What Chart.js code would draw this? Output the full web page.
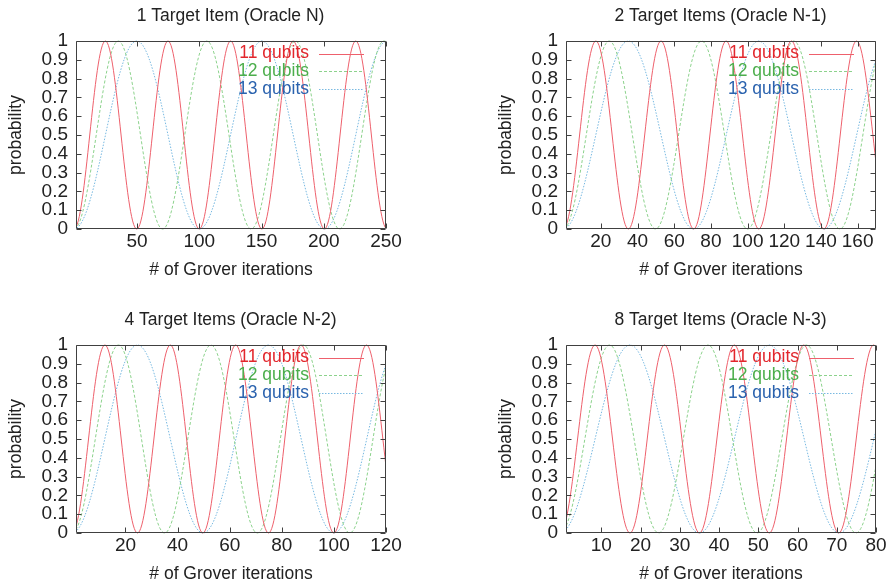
<!DOCTYPE html>
<html><head><meta charset="utf-8">
<script src="https://cdn.jsdelivr.net/npm/chart.js@4.4.0/dist/chart.umd.min.js"></script>
<style>
html,body{margin:0;padding:0;background:#fff;width:890px;height:587px;overflow:hidden;position:relative}
canvas{position:absolute}
</style></head><body>
<canvas id="c1" width="461" height="293" style="left:0px;top:0px"></canvas>
<canvas id="c2" width="461" height="293" style="left:490px;top:0px"></canvas>
<canvas id="c3" width="461" height="293" style="left:0px;top:304px"></canvas>
<canvas id="c4" width="461" height="293" style="left:490px;top:304px"></canvas>
<script>
// ---- text / categories ----
const titles = ['1 Target Item (Oracle N)', '2 Target Items (Oracle N-1)', '4 Target Items (Oracle N-2)', '8 Target Items (Oracle N-3)'];
const seriesLabels = ['11 qubits', '12 qubits', '13 qubits'];
const xTitle = '# of Grover iterations';
const yTitle = 'probability';
const xMin = 1;
const xMax = [250, 170, 120, 80];

// ---- tick labels ----
const xTicks1 = [50, 100, 150, 200, 250];
const xTicks2 = [20, 40, 60, 80, 100, 120, 140, 160];
const xTicks3 = [20, 40, 60, 80, 100, 120];
const xTicks4 = [10, 20, 30, 40, 50, 60, 70, 80];
const xTicks = [xTicks1, xTicks2, xTicks3, xTicks4];
const yTicks = [0, 0.1, 0.2, 0.3, 0.4, 0.5, 0.6, 0.7, 0.8, 0.9, 1];

// ---- data: positions of zeros / maxima of the probability curves ----
const p1_x11 = [-25.6, -0.5, 24.6, 49.8, 74.9, 100.0, 125.2, 150.3, 175.4, 200.5, 225.7, 250.8, 275.9];
const p1_y11 = [1, 0, 1, 0, 1, 0, 1, 0, 1, 0, 1, 0, 1];
const p1_x12 = [-36.0, -0.5, 35.0, 70.6, 106.1, 141.7, 177.2, 212.7, 248.3, 283.8];
const p1_y12 = [1, 0, 1, 0, 1, 0, 1, 0, 1, 0];
const p1_x13 = [-50.8, -0.5, 49.8, 100.0, 150.3, 200.6, 250.8, 301.1];
const p1_y13 = [1, 0, 1, 0, 1, 0, 1, 0];

const p2_x11 = [-18.3, -0.5, 17.3, 35.0, 52.8, 70.6, 88.3, 106.1, 123.9, 141.6, 159.4, 177.2, 194.9];
const p2_y11 = [1, 0, 1, 0, 1, 0, 1, 0, 1, 0, 1, 0, 1];
const p2_x12 = [-25.6, -0.5, 24.6, 49.8, 74.9, 100.0, 125.2, 150.3, 175.4, 200.5];
const p2_y12 = [1, 0, 1, 0, 1, 0, 1, 0, 1, 0];
const p2_x13 = [-36.0, -0.5, 35.0, 70.6, 106.1, 141.7, 177.2, 212.7];
const p2_y13 = [1, 0, 1, 0, 1, 0, 1, 0];

const p3_x11 = [-13.1, -0.5, 12.1, 24.6, 37.2, 49.7, 62.3, 74.9, 87.4, 100.0, 112.5, 125.1, 137.6];
const p3_y11 = [1, 0, 1, 0, 1, 0, 1, 0, 1, 0, 1, 0, 1];
const p3_x12 = [-18.3, -0.5, 17.3, 35.0, 52.8, 70.6, 88.3, 106.1, 123.9, 141.6];
const p3_y12 = [1, 0, 1, 0, 1, 0, 1, 0, 1, 0];
const p3_x13 = [-25.6, -0.5, 24.6, 49.8, 74.9, 100.0, 125.2, 150.3];
const p3_y13 = [1, 0, 1, 0, 1, 0, 1, 0];

const p4_x11 = [-9.4, -0.5, 8.4, 17.3, 26.1, 35.0, 43.9, 52.8, 61.6, 70.5, 79.4, 88.2, 97.1];
const p4_y11 = [1, 0, 1, 0, 1, 0, 1, 0, 1, 0, 1, 0, 1];
const p4_x12 = [-13.1, -0.5, 12.1, 24.6, 37.2, 49.7, 62.3, 74.9, 87.4, 100.0];
const p4_y12 = [1, 0, 1, 0, 1, 0, 1, 0, 1, 0];
const p4_x13 = [-18.3, -0.5, 17.3, 35.0, 52.8, 70.6, 88.3, 106.1];
const p4_y13 = [1, 0, 1, 0, 1, 0, 1, 0];

const xData = [[p1_x11, p1_x12, p1_x13], [p2_x11, p2_x12, p2_x13], [p3_x11, p3_x12, p3_x13], [p4_x11, p4_x12, p4_x13]];
const yData = [[p1_y11, p1_y12, p1_y13], [p2_y11, p2_y12, p2_y13], [p3_y11, p3_y12, p3_y13], [p4_y11, p4_y12, p4_y13]];

// ---- styles ----
const FONT = "'Liberation Sans', Arial, Helvetica, sans-serif";
const FS = 17.5;
const TFS = 19;
const lineColors = ['rgb(238,96,108)', 'rgb(140,210,140)', 'rgb(120,185,225)'];
const legendColors = ['#e2262c', '#4cae4c', '#2a62ae'];
const dashes = [[], [3, 2], [1.5, 1.5]];

Chart.defaults.font.family = FONT;
Chart.defaults.font.size = FS;
Chart.defaults.color = '#222';

const framePlugin = {
  id: 'frame',
  afterDatasetsDraw(chart) {
    const {ctx, chartArea: a, scales} = chart;
    ctx.save();
    const L = Math.round(a.left) + 0.5, R = Math.round(a.right) - 0.5;
    const T = Math.round(a.top) + 0.5, B = Math.round(a.bottom) - 0.5;
    ctx.strokeStyle = '#404040';
    ctx.lineWidth = 1;
    ctx.beginPath();
    ctx.rect(L, T, R - L, B - T);
    scales.x.ticks.forEach(t => {
      const px = Math.round(scales.x.getPixelForValue(t.value)) + 0.5;
      ctx.moveTo(px, B); ctx.lineTo(px, B - 5);
      ctx.moveTo(px, T); ctx.lineTo(px, T + 5);
    });
    scales.y.ticks.forEach(t => {
      const py = Math.round(scales.y.getPixelForValue(t.value)) + 0.5;
      ctx.moveTo(L, py); ctx.lineTo(L + 5, py);
      ctx.moveTo(R, py); ctx.lineTo(R - 5, py);
    });
    ctx.stroke();
    // key
    ctx.font = FS + 'px ' + FONT;
    ctx.textAlign = 'right';
    ctx.textBaseline = 'middle';
    chart.data.datasets.forEach((ds, i) => {
      const y = a.top + 12.5 + i * 17.8;
      ctx.fillStyle = legendColors[i];
      ctx.fillText(ds.label, a.right - 77, y);
      ctx.strokeStyle = ds.borderColor;
      ctx.setLineDash(ds.borderDash);
      ctx.beginPath();
      ctx.moveTo(a.right - 67, Math.round(y) + 0.5);
      ctx.lineTo(a.right - 22, Math.round(y) + 0.5);
      ctx.stroke();
      ctx.setLineDash([]);
    });
    ctx.restore();
  }
};

function fmt(v) { return String(Math.round(v * 10) / 10); }

function makeChart(id, idx) {
  new Chart(document.getElementById(id), {
    type: 'line',
    data: {
      datasets: [0, 1, 2].map(i => ({
        label: seriesLabels[i],
        data: xData[idx][i].map((x, j) => ({x: x, y: yData[idx][i][j]})),
        borderColor: lineColors[i],
        borderWidth: 1,
        borderDash: dashes[i],
        pointRadius: 0,
        tension: 0.36,
        fill: false,
        clip: {left: 0, right: 0, top: 2, bottom: 2}
      }))
    },
    options: {
      responsive: false,
      animation: false,
      events: [],
      layout: {padding: 0},
      plugins: {
        legend: {display: false},
        tooltip: {enabled: false},
        title: {display: true, text: titles[idx], color: '#222', font: {size: FS, weight: 'normal'}, padding: {top: 6, bottom: 14}}
      },
      scales: {
        x: {
          type: 'linear', min: xMin, max: xMax[idx],
          ticks: {color: '#222', padding: 1, maxRotation: 0, autoSkip: false, font: {size: TFS}, callback: v => fmt(v)},
          grid: {display: false, drawTicks: false},
          border: {display: false},
          title: {display: true, text: xTitle, color: '#222', font: {size: FS}, padding: {top: 0, bottom: 12.5}},
          afterBuildTicks: s => { s.ticks = xTicks[idx].map(v => ({value: v})); },
          afterFit: s => { s.height = 64; }
        },
        y: {
          type: 'linear', min: 0, max: 1,
          ticks: {color: '#222', padding: 8, autoSkip: false, font: {size: TFS}, callback: v => fmt(v)},
          grid: {display: false, drawTicks: false},
          border: {display: false},
          title: {display: true, text: yTitle, color: '#222', font: {size: FS}, padding: {top: 5.5, bottom: 0}},
          afterBuildTicks: s => { s.ticks = yTicks.map(v => ({value: v})); },
          afterFit: s => { s.width = 76; }
        },
        y2: {
          type: 'linear', position: 'right', min: 0, max: 1,
          ticks: {display: false},
          grid: {display: false, drawTicks: false},
          border: {display: false},
          afterFit: s => { s.width = 75; }
        }
      }
    },
    plugins: [framePlugin]
  });
}
makeChart('c1', 0);
makeChart('c2', 1);
makeChart('c3', 2);
makeChart('c4', 3);
</script>
</body></html>
